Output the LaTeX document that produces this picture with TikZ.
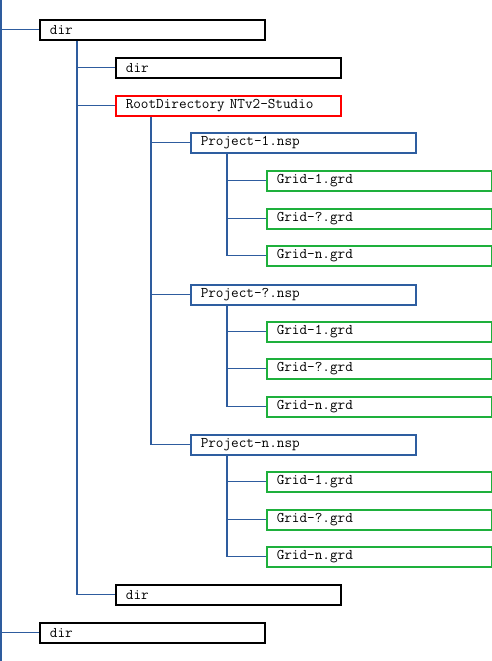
\documentclass[tikz,border=0pt]{standalone}
\definecolor{conn}{RGB}{46,92,158}
\definecolor{pblue}{RGB}{46,94,160}
\definecolor{ggreen}{RGB}{30,176,60}
\definecolor{rred}{RGB}{255,0,0}
\tikzset{
  entry/.style={draw=black, line width=1.8pt, anchor=north west, minimum height=20pt,
    inner xsep=10pt, inner ysep=0pt, text width=205pt, align=left,
    font=\fontsize{14.8}{16}\selectfont\ttfamily, text=black},
  rootbox/.style={entry, draw=rred, line width=1.5pt},
  projbox/.style={entry, draw=pblue, line width=1.5pt},
  gridbox/.style={entry, draw=ggreen, line width=1.5pt},
  link/.style={draw=conn, line width=1.1pt}
}
\begin{document}
\begin{tikzpicture}[x=1pt,y=-1pt]
\useasboundingbox (0,0) rectangle (492,661);
\coordinate (top) at (1,0);
\coordinate (bot) at (1,661);
\node[entry] (d1) at (39,19) {dir};
\node[entry] (d2) at (115,57) {dir};
\node[rootbox] (root) at (115,95) {RootDirectory NTv2-Studio};
\node[projbox] (p1) at (190,132) {Project-1.nsp};
\node[gridbox] (g11) at (266,170) {Grid-1.grd};
\node[gridbox] (g12) at (266,208) {Grid-?.grd};
\node[gridbox] (g13) at (266,245) {Grid-n.grd};
\node[projbox] (p2) at (190,284) {Project-?.nsp};
\node[gridbox] (g21) at (266,321) {Grid-1.grd};
\node[gridbox] (g22) at (266,358) {Grid-?.grd};
\node[gridbox] (g23) at (266,396) {Grid-n.grd};
\node[projbox] (p3) at (190,434) {Project-n.nsp};
\node[gridbox] (g31) at (266,471) {Grid-1.grd};
\node[gridbox] (g32) at (266,509) {Grid-?.grd};
\node[gridbox] (g33) at (266,546) {Grid-n.grd};
\node[entry] (d3) at (115,584) {dir};
\node[entry] (d4) at (39,622) {dir};
% connectors
\draw[link] (top) -- (bot);
\draw[link] (top |- d1.west) -- (d1.west);
\draw[link] (top |- d4.west) -- (d4.west);
\coordinate (c1) at ([xshift=38pt]d1.south west);
\draw[link] (c1) |- (d3.west);
\draw[link] (c1 |- d2.west) -- (d2.west);
\draw[link] (c1 |- root.west) -- (root.west);
\coordinate (c2) at ([xshift=36pt]root.south west);
\draw[link] (c2) |- (p3.west);
\draw[link] (c2 |- p1.west) -- (p1.west);
\draw[link] (c2 |- p2.west) -- (p2.west);
\coordinate (c3) at ([xshift=37pt]p1.south west);
\draw[link] (c3) |- (g13.west);
\draw[link] (c3 |- g11.west) -- (g11.west);
\draw[link] (c3 |- g12.west) -- (g12.west);
\coordinate (c4) at ([xshift=37pt]p2.south west);
\draw[link] (c4) |- (g23.west);
\draw[link] (c4 |- g21.west) -- (g21.west);
\draw[link] (c4 |- g22.west) -- (g22.west);
\coordinate (c5) at ([xshift=37pt]p3.south west);
\draw[link] (c5) |- (g33.west);
\draw[link] (c5 |- g31.west) -- (g31.west);
\draw[link] (c5 |- g32.west) -- (g32.west);
\end{tikzpicture}
\end{document}
